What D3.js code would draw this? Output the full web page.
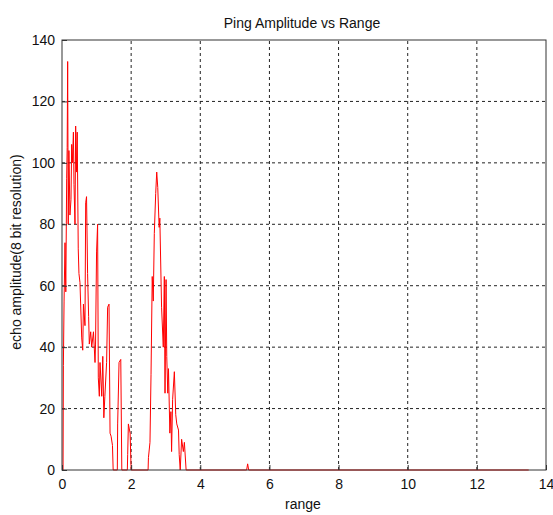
<!DOCTYPE html>
<html>
<head>
<meta charset="utf-8">
<script src="https://d3js.org/d3.v7.min.js"></script>
<style>
  body { margin: 0; background: #fff; }
  text { font-family: "Liberation Sans", Arial, sans-serif; fill: #111; }
</style>
</head>
<body>
<svg></svg>
<script>
// samples of the ping trace
var ranges = [0, 0.03, 0.04, 0.06, 0.087, 0.11, 0.135, 0.15, 0.164, 0.18, 0.2, 0.23, 0.26, 0.28, 0.3, 0.33,
  0.347, 0.376, 0.395, 0.42, 0.44, 0.47, 0.49, 0.52, 0.57, 0.6, 0.62, 0.665, 0.685, 0.71, 0.74, 0.77,
  0.79, 0.83, 0.86, 0.91, 0.955, 0.97, 1.0, 1.03, 1.05, 1.08, 1.1, 1.15, 1.18, 1.21, 1.24, 1.29,
  1.32, 1.36, 1.39, 1.42, 1.46, 1.48, 1.6, 1.61, 1.65, 1.7, 1.73, 1.89, 1.9, 1.92, 1.97, 2.0,
  2.49, 2.5, 2.545, 2.575, 2.61, 2.64, 2.67, 2.71, 2.74, 2.77, 2.81, 2.83, 2.88, 2.93, 2.96, 2.98,
  3.01, 3.03, 3.06, 3.08, 3.12, 3.15, 3.17, 3.2, 3.25, 3.29, 3.32, 3.37, 3.39, 3.42, 3.46, 3.51,
  3.54, 3.59, 5.34, 5.37, 5.4, 13.5];
var amplitudes = [0, 0, 34, 55, 74, 58, 95, 105, 133, 80, 104, 83, 88, 106, 100, 110,
  93, 80, 112, 97, 110, 72, 64, 61, 43, 39, 54, 47, 87, 89, 64, 50,
  41, 45, 40, 45, 35, 41, 71, 80, 30, 24, 35, 24, 37, 17, 24, 35,
  53, 54, 12, 11, 8, 0, 0, 15, 35, 36, 0, 0, 5, 15, 12, 0,
  0, 4, 9, 31, 63, 55, 77, 90, 97, 92, 79, 82, 53, 40, 63, 25,
  62, 37, 25, 33, 12, 19, 6, 23, 32, 18, 15, 13, 5, 0, 10, 6,
  9, 0, 0, 2, 0, 0];
var xTicks = [0, 2, 4, 6, 8, 10, 12, 14];
var yTicks = [0, 20, 40, 60, 80, 100, 120, 140];

var width = 553, height = 515;
var margin = {left: 62, right: 7, top: 40, bottom: 45};

var svg = d3.select("svg")
    .attr("width", width)
    .attr("height", height);

var x = d3.scaleLinear()
    .domain([0, 14])
    .range([margin.left, width - margin.right]);
var y = d3.scaleLinear()
    .domain([0, 140])
    .range([height - margin.bottom, margin.top]);

// dashed grid
svg.append("g").selectAll("line")
    .data(xTicks.slice(1, -1))
    .enter().append("line")
    .attr("x1", function(d) { return x(d); })
    .attr("x2", function(d) { return x(d); })
    .attr("y1", y(0))
    .attr("y2", y(140))
    .attr("stroke", "#222")
    .attr("stroke-dasharray", "3,3");
svg.append("g").selectAll("line")
    .data(yTicks.slice(1, -1))
    .enter().append("line")
    .attr("y1", function(d) { return y(d); })
    .attr("y2", function(d) { return y(d); })
    .attr("x1", x(0))
    .attr("x2", x(14))
    .attr("stroke", "#222")
    .attr("stroke-dasharray", "3,3");

var data = ranges.map(function(r, i) { return {range: r, amp: amplitudes[i]}; });

var line = d3.line()
    .x(function(d) { return x(d.range); })
    .y(function(d) { return y(d.amp); });

svg.append("path")
    .datum(data)
    .attr("fill", "none")
    .attr("stroke", "#ff0000")
    .attr("stroke-width", 1)
    .attr("d", line);

// box
svg.append("rect")
    .attr("x", x(0))
    .attr("y", y(140))
    .attr("width", x(14) - x(0))
    .attr("height", y(0) - y(140))
    .attr("fill", "none")
    .attr("stroke", "#333");

var xAxis = svg.append("g")
    .attr("transform", "translate(0," + y(0) + ")")
    .call(d3.axisBottom(x).tickValues(xTicks).tickSize(-5).tickPadding(9));
var yAxis = svg.append("g")
    .attr("transform", "translate(" + x(0) + ",0)")
    .call(d3.axisLeft(y).tickValues(yTicks).tickSize(-5).tickPadding(7));
[xAxis, yAxis].forEach(function(g) {
  g.select(".domain").remove();
  g.selectAll(".tick line").attr("stroke", "#333");
  g.selectAll("text").attr("font-size", 14).attr("font-family", "Liberation Sans, Arial, sans-serif").attr("fill", "#111");
});

svg.append("text")
    .attr("x", 302)
    .attr("y", 28)
    .attr("text-anchor", "middle")
    .attr("font-size", 14)
    .text("Ping Amplitude vs Range");
svg.append("text")
    .attr("x", 303)
    .attr("y", 509)
    .attr("text-anchor", "middle")
    .attr("font-size", 14)
    .text("range");
svg.append("text")
    .attr("transform", "translate(21,252) rotate(-90)")
    .attr("text-anchor", "middle")
    .attr("font-size", 14)
    .text("echo amplitude(8 bit resolution)");
</script>
</body>
</html>
